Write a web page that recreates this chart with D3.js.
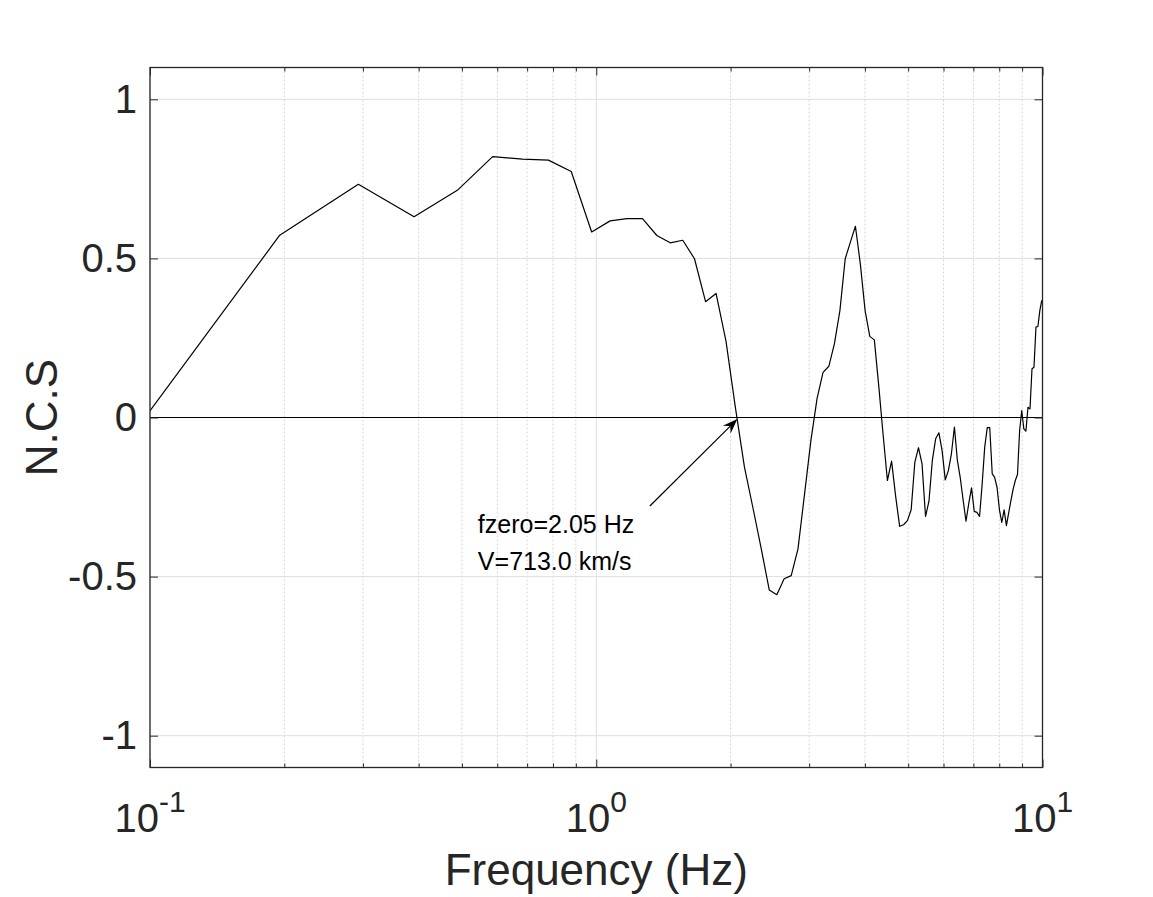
<!DOCTYPE html>
<html lang="en">
<head>
<meta charset="UTF-8">
<title>N.C.S vs Frequency</title>
<script src="https://d3js.org/d3.v7.min.js"></script>
<style>
    body { margin: 0; background: #fff; }
    svg { display: block; font-family: "Liberation Sans", Arial, sans-serif; }
    .axis path, .axis line { stroke: #262626; }
    .axis text { fill: #262626; }
</style>
</head>
<body>
<svg id="chart" width="1153" height="897"></svg>
<script>
// frequency samples (Hz) and normalized cross spectrum values
const freq = [0.0977, 0.1953, 0.2930, 0.3906, 0.4883, 0.5859, 0.6836, 0.7813, 0.8789, 0.9766,
    1.0742, 1.1719, 1.2695, 1.3672, 1.4648, 1.5625, 1.6602, 1.7578, 1.8555, 1.9531,
    2.0508, 2.1484, 2.2461, 2.3438, 2.4414, 2.5391, 2.6367, 2.7344, 2.8320, 2.9297,
    3.0273, 3.1250, 3.2227, 3.3203, 3.4180, 3.5156, 3.6133, 3.7109, 3.8086, 3.9063,
    4.0039, 4.1016, 4.1992, 4.2969, 4.3945, 4.4922, 4.5898, 4.6875, 4.7852, 4.8828,
    4.9805, 5.0781, 5.1758, 5.2734, 5.3711, 5.4688, 5.5664, 5.6641, 5.7617, 5.8594,
    5.9570, 6.0547, 6.1523, 6.2500, 6.3477, 6.4453, 6.5430, 6.6406, 6.7383, 6.8359,
    6.9336, 7.0313, 7.1289, 7.2266, 7.3242, 7.4219, 7.5195, 7.6172, 7.7148, 7.8125,
    7.9102, 8.0078, 8.1055, 8.2031, 8.3008, 8.3984, 8.4961, 8.5938, 8.6914, 8.7891,
    8.8867, 8.9844, 9.0820, 9.1797, 9.2773, 9.3750, 9.4727, 9.5703, 9.6680, 9.7656,
    9.8633, 9.9609];
const ncs = [0.002, 0.573, 0.733, 0.631, 0.714, 0.820, 0.812, 0.809, 0.773, 0.583,
    0.618, 0.625, 0.625, 0.572, 0.549, 0.557, 0.499, 0.364, 0.390, 0.240,
    0.030, -0.156, -0.286, -0.414, -0.542, -0.557, -0.507, -0.497, -0.413, -0.240,
    -0.072, 0.060, 0.142, 0.161, 0.232, 0.336, 0.499, 0.551, 0.601, 0.483,
    0.336, 0.255, 0.244, 0.098, -0.055, -0.198, -0.137, -0.248, -0.342, -0.337,
    -0.324, -0.290, -0.140, -0.095, -0.146, -0.311, -0.263, -0.135, -0.067, -0.048,
    -0.104, -0.196, -0.167, -0.114, -0.030, -0.135, -0.190, -0.260, -0.326, -0.270,
    -0.221, -0.295, -0.298, -0.311, -0.210, -0.093, -0.032, -0.032, -0.177, -0.188,
    -0.220, -0.290, -0.330, -0.290, -0.340, -0.300, -0.261, -0.225, -0.198, -0.179,
    -0.041, 0.022, -0.036, -0.043, 0.032, 0.027, 0.153, 0.158, 0.284, 0.286,
    0.336, 0.368];

const xMajor = [0.1, 1, 10];
const xMinor = [0.2, 0.3, 0.4, 0.5, 0.6, 0.7, 0.8, 0.9, 2, 3, 4, 5, 6, 7, 8, 9];
const xExponents = ["-1", "0", "1"];
const yTicks = [-1, -0.5, 0, 0.5, 1];
const yTickLabels = ["-1", "-0.5", "0", "0.5", "1"];

const fzero = 2.05;
const noteLines = ["fzero=2.05 Hz", "V=713.0 km/s"];
const xLabel = "Frequency (Hz)";
const yLabel = "N.C.S";

const margin = { top: 67.5, left: 150, right: 110.5, bottom: 129.5 };
const W = 1153, H = 897;
const x = d3.scaleLog().domain([0.1, 10]).range([margin.left, W - margin.right]);
const y = d3.scaleLinear().domain([-1.1, 1.1]).range([H - margin.bottom, margin.top]);

const svg = d3.select("#chart");
const x0 = x.range()[0], x1 = x.range()[1], y0 = y.range()[1], y1 = y.range()[0];

// grid
svg.append("g").selectAll("line").data(xMinor).join("line")
    .attr("x1", d => x(d)).attr("x2", d => x(d)).attr("y1", y0).attr("y2", y1)
    .attr("stroke", "#d6d6d6").attr("stroke-width", 1).attr("stroke-dasharray", "2,2");
svg.append("g").selectAll("line").data(xMajor).join("line")
    .attr("x1", d => x(d)).attr("x2", d => x(d)).attr("y1", y0).attr("y2", y1)
    .attr("stroke", "#dfdfdf").attr("stroke-width", 1);
svg.append("g").selectAll("line").data(yTicks).join("line")
    .attr("x1", x0).attr("x2", x1).attr("y1", d => y(d)).attr("y2", d => y(d))
    .attr("stroke", "#dfdfdf").attr("stroke-width", 1);

// clip
svg.append("clipPath").attr("id", "clip").append("rect")
    .attr("x", x0).attr("y", y0).attr("width", x1 - x0).attr("height", y1 - y0);

// zero line
svg.append("line")
    .attr("x1", x(0.1)).attr("x2", x(10)).attr("y1", y(0)).attr("y2", y(0))
    .attr("stroke", "#000").attr("stroke-width", 1.2);

// curve
const pts = freq.map((f, i) => [f, ncs[i]]);
svg.append("path")
    .datum(pts)
    .attr("clip-path", "url(#clip)")
    .attr("fill", "none")
    .attr("stroke", "#000")
    .attr("stroke-width", 1.2)
    .attr("stroke-linejoin", "round")
    .attr("d", d3.line().x(d => x(d[0])).y(d => y(d[1])));

// axes, ticks pointing inward
const fmtY = d => yTickLabels[yTicks.indexOf(d)];
svg.append("g").attr("class", "axis")
    .attr("transform", `translate(${x0},0)`)
    .call(d3.axisLeft(y).tickValues(yTicks).tickSize(-8).tickPadding(13).tickFormat(fmtY))
    .call(g => g.select(".domain").remove())
    .selectAll("text").attr("font-size", 40).attr("font-family", "Liberation Sans, Arial, sans-serif");
svg.append("g").attr("class", "axis")
    .attr("transform", `translate(${x1},0)`)
    .call(d3.axisRight(y).tickValues(yTicks).tickSize(-8).tickFormat(""))
    .call(g => g.select(".domain").remove());

svg.append("g").attr("class", "axis")
    .attr("transform", `translate(0,${y1})`)
    .call(d3.axisBottom(x).tickValues(xMajor).tickSize(-8).tickFormat(""))
    .call(g => g.select(".domain").remove());
svg.append("g").attr("class", "axis")
    .attr("transform", `translate(0,${y1})`)
    .call(d3.axisBottom(x).tickValues(xMinor).tickSize(-4).tickFormat(""))
    .call(g => g.select(".domain").remove());
svg.append("g").attr("class", "axis")
    .attr("transform", `translate(0,${y0})`)
    .call(d3.axisTop(x).tickValues(xMajor).tickSize(-8).tickFormat(""))
    .call(g => g.select(".domain").remove());
svg.append("g").attr("class", "axis")
    .attr("transform", `translate(0,${y0})`)
    .call(d3.axisTop(x).tickValues(xMinor).tickSize(-4).tickFormat(""))
    .call(g => g.select(".domain").remove());

// x tick labels as 10 with superscript exponent
const xl = svg.append("g").selectAll("text").data(xMajor).join("text")
    .attr("x", d => x(d))
    .attr("y", y1 + 64.5)
    .attr("text-anchor", "middle")
    .attr("fill", "#262626")
    .attr("font-size", 40);
xl.append("tspan").text("10");
xl.append("tspan").attr("font-size", 30).attr("dy", -20)
    .text((d, i) => xExponents[i]);

// frame
svg.append("rect")
    .attr("x", x0).attr("y", y0).attr("width", x1 - x0).attr("height", y1 - y0)
    .attr("fill", "none").attr("stroke", "#262626").attr("stroke-width", 1.3);

// axis labels
svg.append("text")
    .attr("x", (x0 + x1) / 2).attr("y", 885)
    .attr("text-anchor", "middle").attr("fill", "#262626").attr("font-size", 44)
    .text(xLabel);
svg.append("text")
    .attr("transform", `translate(57,${(y0 + y1) / 2}) rotate(-90)`)
    .attr("text-anchor", "middle").attr("fill", "#262626").attr("font-size", 44)
    .text(yLabel);

// annotation arrow pointing at the zero crossing
const tipX = x(fzero) + 2, tipY = y(0) + 1.5;
const tailX = tipX - 87.5, tailY = tipY + 87;
const ang = Math.atan2(tipY - tailY, tipX - tailX);
svg.append("line")
    .attr("x1", tailX).attr("y1", tailY)
    .attr("x2", tipX - 10 * Math.cos(ang)).attr("y2", tipY - 10 * Math.sin(ang))
    .attr("stroke", "#000").attr("stroke-width", 1.2);
svg.append("path")
    .attr("d", "M0,0 L-15,-5.5 L-10,0 L-15,5.5 Z")
    .attr("fill", "#000")
    .attr("transform", `translate(${tipX},${tipY}) rotate(${ang * 180 / Math.PI})`);

svg.append("g").selectAll("text").data(noteLines).join("text")
    .attr("x", tailX - 172)
    .attr("y", (d, i) => tailY + 27 + i * 36.5)
    .attr("fill", "#000")
    .attr("font-size", 25)
    .text(d => d);
</script>
</body>
</html>
